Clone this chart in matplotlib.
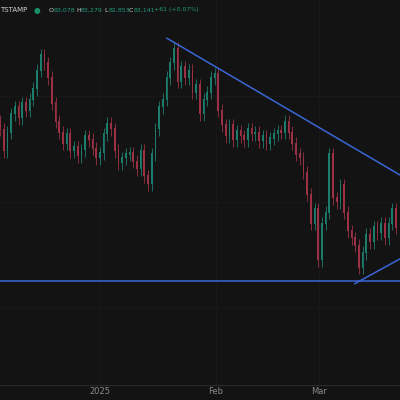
import numpy as np
import matplotlib
matplotlib.use('Agg')
import matplotlib.pyplot as plt

# daily closes (thousands USD)
closes = [97.4, 94.5, 97.0, 99.5, 100.5, 99.0, 101.0, 100.0, 101.5,
          103, 105.5, 107.6, 106.5, 104.5, 101, 98.5, 97, 95.5, 96.8, 94.5,
          95.0, 93.8, 94.6, 96.5, 96.0, 94.8, 93.5,
          94.2, 96.8, 98.2, 97.5, 94.5, 92.8, 93.5, 94.0,
          94.2, 93.0, 92.0, 94.5, 91.0, 89.9,
          94.0, 97.5, 100.5, 101.5, 104.5, 106.5, 108.5,
          104.0, 106.0, 104.5, 105.5, 102.5, 103.5, 99.5,
          101.5, 102.5, 104.5, 105.0, 100.0,
          98.0, 96.5, 98.0, 96.0, 97.2, 96.5, 96.0,
          97.5, 96.8, 97.0, 95.8, 96.5, 95.5, 96.2, 96.8, 97.2,
          97.0, 98.5, 97.0, 95.5, 94.0,
          93.5, 91.5, 88.5, 84.5, 86.5,
          79.5, 84.5, 86.0, 94.0, 88.0,
          87.5, 89.8, 86.0, 83.5, 82.5, 81.5,
          78.5, 80.5, 83.0, 82.0, 84.0, 83.2, 84.5,
          82.5, 84.5, 86.5, 84.0]
first_open = 98.5
support = 76.6
upper_trend = [(45.1, 109.96), (108.1, 91.2)]
lower_trend = [(95.9, 76.3), (108.1, 79.7)]
month_ticks = [27.0, 58.4, 86.2]
month_labels = ['2025', 'Feb', 'Mar']
ohlc_text = [('O', '83,078'), ('H', '83,279'), ('L', '82,853'), ('C', '83,141')]

bg = '#131313'
up_c, dn_c = '#1d7d6d', '#9c3045'

fig = plt.figure(figsize=(4, 4), dpi=100, facecolor=bg)
ax = fig.add_axes([0, 15 / 400, 1, 385 / 400])
ax.set_facecolor(bg)

opens = [first_open] + closes[:-1]
for i, (o, c) in enumerate(zip(opens, closes)):
    col = up_c if c >= o else dn_c
    hi = max(o, c) + 0.9
    lo = min(o, c) - 0.9
    ax.vlines(i, lo, hi, color=col, lw=0.6)
    ax.bar(i, abs(c - o) + 0.15, bottom=min(o, c), width=0.45, color=col, lw=0)

blue = '#3a66d6'
ax.axhline(support, color=blue, lw=1.1)
ax.plot(*zip(*upper_trend), color=blue, lw=1.1)
ax.plot(*zip(*lower_trend), color=blue, lw=1.1)

for y in [73, 87.5, 102]:
    ax.axhline(y, color='#1a1a1a', lw=0.6, zorder=0)
for x in month_ticks:
    ax.axvline(x, color='#1a1a1a', lw=0.6, zorder=0)

ax.set_xlim(0, 108.1)
ax.set_ylim(62.4, 115.2)
ax.set_xticks([])
ax.set_yticks([])
for s in ax.spines.values():
    s.set_visible(False)
ax.spines['bottom'].set_visible(True)
ax.spines['bottom'].set_color('#2a2a2a')

for x, lab in zip(month_ticks, month_labels):
    fig.text(x / 108.1, 8 / 400, lab, color='#8a8a8a', fontsize=6, ha='center', va='center')

y_hdr = 0.975
fig.text(0, y_hdr, 'TSTAMP', color='#d0d0d0', fontsize=5, va='center')
fig.text(0.093, y_hdr, '\u25cf', color='#1b8f6a', fontsize=5.5, va='center', ha='center')
for xpos, (k, v) in zip([0.122, 0.19, 0.26, 0.322], ohlc_text):
    fig.text(xpos, y_hdr, k, color='#d0d0d0', fontsize=4.5, va='center')
    fig.text(xpos + 0.011, y_hdr, v, color='#1f9b7c', fontsize=4.5, va='center')
fig.text(0.385, y_hdr, '+61 (+0.07%)', color='#1f9b7c', fontsize=4.5, va='center')

fig.savefig('out.png', facecolor=bg)
